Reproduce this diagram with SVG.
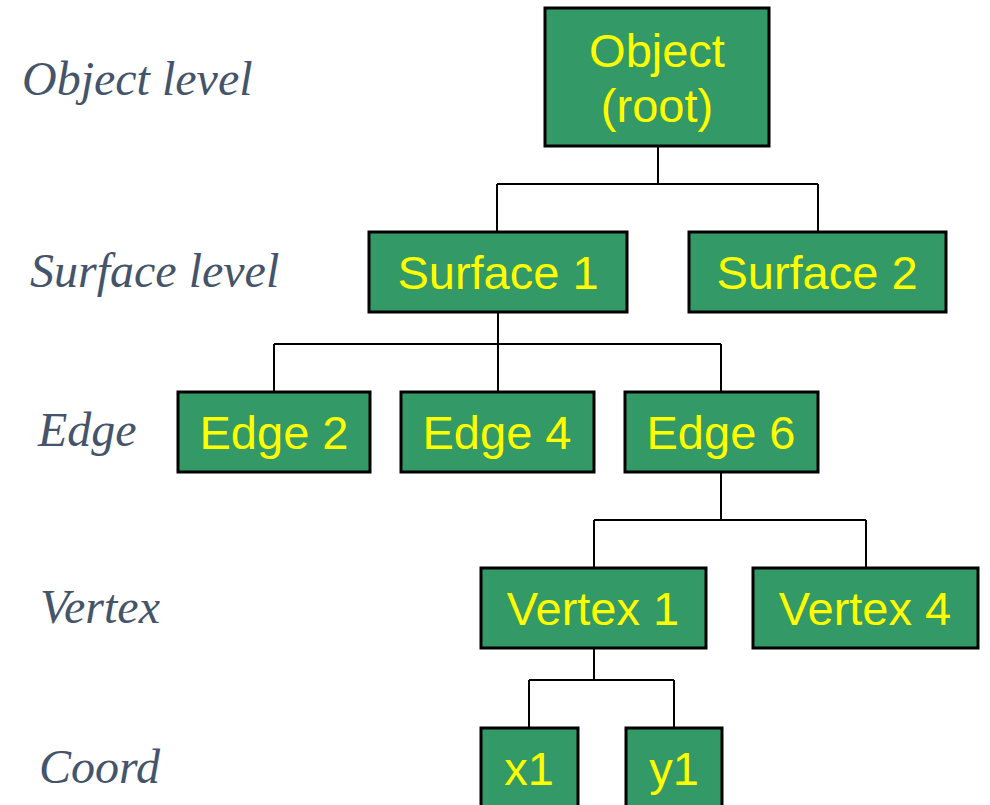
<svg xmlns="http://www.w3.org/2000/svg" width="990" height="805" viewBox="0 0 990 805">
<style>
.box{fill:#339966;stroke:#000;stroke-width:3}
.t{font-family:"Liberation Sans",Arial,sans-serif;font-size:47px;fill:#FFFF00;text-anchor:middle}
.lv{font-family:"Liberation Serif","Times New Roman",serif;font-style:italic;font-size:48px;fill:#44546A}
.c{fill:none;stroke:#000;stroke-width:2}
</style>
<rect width="990" height="805" fill="#fff"/>
<g id="levels">
<text class="lv" x="22" y="95">Object level</text>
<text class="lv" x="30" y="287">Surface level</text>
<text class="lv" x="38" y="446">Edge</text>
<text class="lv" x="40" y="623">Vertex</text>
<text class="lv" x="39" y="783">Coord</text>
</g>
<g id="connectors">
<path class="c" d="M658 146V184M497 184H818M497 184V232M818 184V232"/>
<path class="c" d="M498 312V344M274 344H721M274 344V392M498 344V392M721 344V392"/>
<path class="c" d="M721 472V520M594 520H866M594 520V568M866 520V568"/>
<path class="c" d="M594 648V680M529 680H674M529 680V728M674 680V728"/>
</g>
<g id="root"><rect class="box" x="545" y="8" width="224" height="138"/><text class="t" x="657" y="67">Object</text><text class="t" x="657" y="122">(root)</text></g>
<g id="surface1"><rect class="box" x="369" y="232" width="258" height="80"/><text class="t" x="498" y="289">Surface 1</text></g>
<g id="surface2"><rect class="box" x="689" y="232" width="257" height="80"/><text class="t" x="817" y="289">Surface 2</text></g>
<g id="edge2"><rect class="box" x="178" y="392" width="192" height="80"/><text class="t" x="274" y="449">Edge 2</text></g>
<g id="edge4"><rect class="box" x="401" y="392" width="193" height="80"/><text class="t" x="497" y="449">Edge 4</text></g>
<g id="edge6"><rect class="box" x="625" y="392" width="193" height="80"/><text class="t" x="721" y="449">Edge 6</text></g>
<g id="vertex1"><rect class="box" x="481" y="568" width="225" height="80"/><text class="t" x="593" y="625">Vertex 1</text></g>
<g id="vertex4"><rect class="box" x="753" y="568" width="225" height="80"/><text class="t" x="865" y="625">Vertex 4</text></g>
<g id="x1"><rect class="box" x="481" y="728" width="97" height="90"/><text class="t" x="529" y="785">x1</text></g>
<g id="y1"><rect class="box" x="626" y="728" width="96" height="90"/><text class="t" x="674" y="785">y1</text></g>
</svg>
